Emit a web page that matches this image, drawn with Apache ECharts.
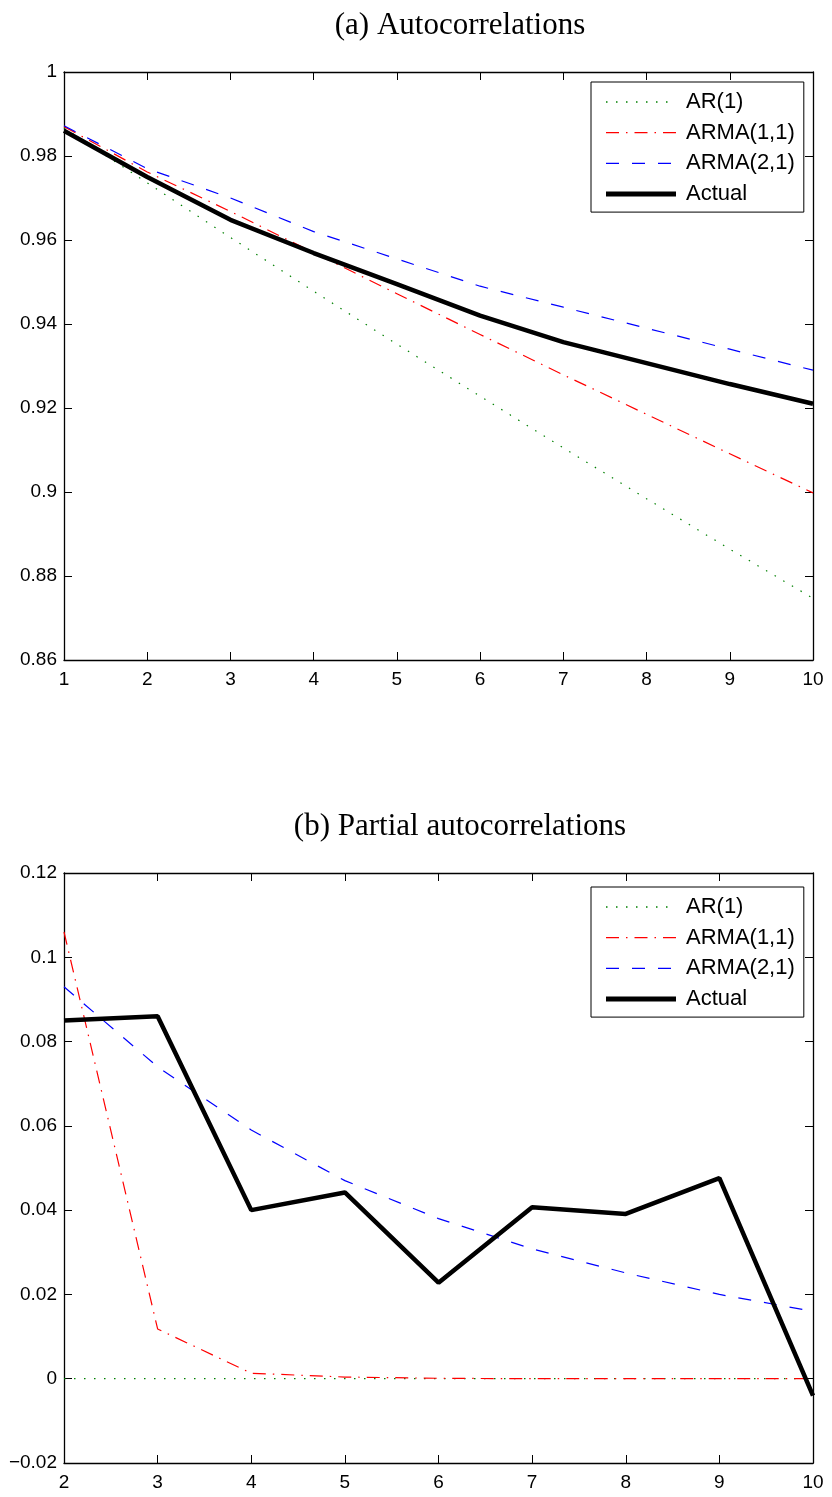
<!DOCTYPE html>
<html>
<head>
<meta charset="utf-8">
<script src="https://cdn.jsdelivr.net/npm/echarts@6/dist/echarts.min.js"></script>
<style>
html,body{margin:0;padding:0;background:#fff;}
#c{width:832px;height:1497px;}
</style>
</head>
<body>
<div id="c"></div>
<script>
// ---- Data ----
const titleA = "(a) Autocorrelations";
const titleB = "(b) Partial autocorrelations";
const seriesNames = ["AR(1)", "ARMA(1,1)", "ARMA(2,1)", "Actual"];

const lagsA = [1, 2, 3, 4, 5, 6, 7, 8, 9, 10];
const acfAR1    = [0.9867, 0.9736, 0.9606, 0.9478, 0.9352, 0.9228, 0.9105, 0.8984, 0.8864, 0.8747];
const acfARMA11 = [0.9870, 0.9762, 0.9668, 0.9570, 0.9472, 0.9375, 0.9279, 0.9185, 0.9091, 0.8998];
const acfARMA21 = [0.9872, 0.9770, 0.9700, 0.9620, 0.9555, 0.9490, 0.9440, 0.9390, 0.9340, 0.9290];
const acfActual = [0.9860, 0.9750, 0.9648, 0.9569, 0.9495, 0.9420, 0.9357, 0.9307, 0.9257, 0.9210];

const lagsB = [2, 3, 4, 5, 6, 7, 8, 9, 10];
const pacfAR1    = [0, 0, 0, 0, 0, 0, 0, 0, 0];
const pacfARMA11 = [0.1060, 0.0118, 0.0013, 0.0004, 0.0001, 0.0000, 0.0000, 0.0000, 0.0000];
const pacfARMA21 = [0.0930, 0.0740, 0.0590, 0.0470, 0.0380, 0.0308, 0.0251, 0.0200, 0.0160];
const pacfActual = [0.0850, 0.0860, 0.0400, 0.0442, 0.0228, 0.0407, 0.0391, 0.0476, -0.0040];

const yTicksA = {min: 0.86, max: 1, interval: 0.02};
const yTicksB = {min: -0.02, max: 0.12, interval: 0.02};

// ---- Styles ----
const styles = [
  {color: '#008000', width: 1.2, type: [1.5, 8.5]},
  {color: '#ff0000', width: 1.2, type: [13, 7, 1.5, 7]},
  {color: '#0000ff', width: 1.2, type: [13, 13]},
  {color: '#000000', width: 4.5, type: 'solid'}
];

const tickFont = {fontFamily: 'Liberation Sans', fontSize: 19, color: '#000'};
const axisLineStyle = {color: '#000', width: 1.3};

function zip(xs, ys){ return xs.map((x,i)=>[x, ys[i]]); }
function fmt(v){
  let s = String(+v.toFixed(4));
  return s.replace('-', '\u2212');
}

function mkX(gi, min, max, pos, labels){
  return {
    type: 'value', gridIndex: gi, min: min, max: max, interval: 1, position: pos,
    axisLine: {show: true, onZero: false, lineStyle: axisLineStyle},
    axisTick: {show: true, inside: true, length: 8, lineStyle: {color:'#000', width: 1}},
    axisLabel: {show: labels, margin: 10, ...tickFont, formatter: v => fmt(v)},
    splitLine: {show: false}
  };
}
function mkY(gi, t, pos, labels){
  return {
    type: 'value', gridIndex: gi, min: t.min, max: t.max, interval: t.interval, position: pos,
    axisLine: {show: true, onZero: false, lineStyle: axisLineStyle},
    axisTick: {show: true, inside: true, length: 8, lineStyle: {color:'#000', width: 1}},
    axisLabel: {show: labels, margin: 7, ...tickFont, formatter: v => fmt(v)},
    splitLine: {show: false}
  };
}

const seriesA = [acfAR1, acfARMA11, acfARMA21, acfActual];
const seriesB = [pacfAR1, pacfARMA11, pacfARMA21, pacfActual];

const series = [];
seriesA.forEach((vals, i) => {
  series.push({
    name: seriesNames[i], type: 'line', xAxisIndex: 0, yAxisIndex: 0,
    data: zip(lagsA, vals), symbol: 'none', smooth: false, animation: false,
    lineStyle: styles[i], itemStyle: {color: styles[i].color}, z: i === 3 ? 3 : 2
  });
});
seriesB.forEach((vals, i) => {
  series.push({
    name: seriesNames[i], type: 'line', xAxisIndex: 2, yAxisIndex: 2,
    data: zip(lagsB, vals), symbol: 'none', smooth: false, animation: false,
    lineStyle: styles[i], itemStyle: {color: styles[i].color}, z: i === 3 ? 3 : 2
  });
});

const legendData = seriesNames.map((n, i) => ({
  name: n,
  lineStyle: {width: i === 3 ? 5 : 1.3},
  itemStyle: {opacity: 0, color: 'rgba(0,0,0,0)', borderWidth: 0}
}));

const legendBase = {
  orient: 'vertical', selectedMode: false, data: legendData,
  itemWidth: 70, itemHeight: 14, itemGap: 8.7,
  padding: [9, 9, 7, 12.5],
  itemStyle: {opacity: 0, borderWidth: 0},
  borderColor: '#000', borderWidth: 1, backgroundColor: '#fff',
  textStyle: {fontFamily: 'Liberation Sans', fontSize: 22, color: '#000', lineHeight: 22, padding: [0,0,0,5]}
};

const titleFont = {fontFamily: 'Liberation Serif', fontSize: 31, fontWeight: 'normal', color: '#000'};

const option = {
  animation: false,
  backgroundColor: '#fff',
  title: [
    {text: titleA, left: 455, top: 5, textAlign: 'center', textStyle: titleFont},
    {text: titleB, left: 455, top: 806, textAlign: 'center', textStyle: titleFont}
  ],
  legend: [
    {...legendBase, left: 591, top: 82},
    {...legendBase, left: 591, top: 887}
  ],
  grid: [
    {left: 64, right: 19, top: 72, height: 588, show: false},
    {left: 64, right: 19, top: 873, height: 590, show: false}
  ],
  xAxis: [
    mkX(0, 1, 10, 'bottom', true),
    mkX(0, 1, 10, 'top', false),
    mkX(1, 2, 10, 'bottom', true),
    mkX(1, 2, 10, 'top', false)
  ],
  yAxis: [
    mkY(0, yTicksA, 'left', true),
    mkY(0, yTicksA, 'right', false),
    mkY(1, yTicksB, 'left', true),
    mkY(1, yTicksB, 'right', false)
  ],
  series: series
};

const chart = echarts.init(document.getElementById('c'), null, {renderer: 'canvas'});
chart.setOption(option);
</script>
</body>
</html>
